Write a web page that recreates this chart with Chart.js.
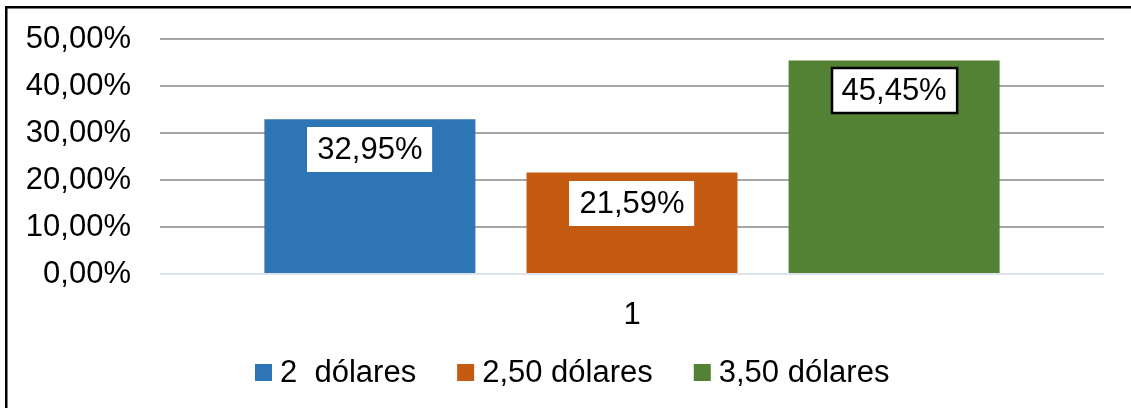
<!DOCTYPE html>
<html>
<head>
<meta charset="utf-8">
<script src="https://cdn.jsdelivr.net/npm/chart.js@4.4.0/dist/chart.umd.min.js"></script>
<style>
  html, body { margin: 0; padding: 0; background: #fff; overflow: hidden; }
  #wrap { width: 1131px; height: 408px; position: relative; }
  canvas { display: block; }
</style>
</head>
<body>
<div id="wrap"><canvas id="priceChart" width="1131" height="408"></canvas></div>
<script>
// Survey results: share of answers per price option
const categories = ['1'];
const seriesLabels = ['2  dólares', '2,50 dólares', '3,50 dólares'];
const seriesValues = [[32.95], [21.59], [45.45]];
const seriesColors = ['#2e75b6', '#c55a11', '#548235'];
const yTicks = [0, 10, 20, 30, 40, 50];

const FONT_FAMILY = '"Liberation Sans", Arial, sans-serif';
const FONT_SIZE = 31;

function pct(v) {
    return v.toFixed(2).replace('.', ',') + '%';
}

// White value boxes inside the top of each bar
const valueBoxes = {
    id: 'valueBoxes',
    afterDatasetsDraw(chart) {
        const ctx = chart.ctx;
        ctx.save();
        ctx.font = FONT_SIZE + 'px ' + FONT_FAMILY;
        ctx.textAlign = 'center';
        ctx.textBaseline = 'middle';
        chart.data.datasets.forEach((ds, i) => {
            chart.getDatasetMeta(i).data.forEach((bar, j) => {
                const txt = pct(ds.data[j]);
                const w = ctx.measureText(txt).width + 20;
                const h = 45;
                const x = Math.round(bar.x - w / 2);
                const y = Math.round(bar.y + 8);
                ctx.fillStyle = '#fff';
                ctx.fillRect(x, y, w, h);
                if (ds.boxBorder) {
                    ctx.lineWidth = 2.5;
                    ctx.strokeStyle = '#000';
                    ctx.strokeRect(x, y, w, h);
                }
                ctx.fillStyle = '#000';
                ctx.fillText(txt, bar.x, y + h / 2 + 1);
            });
        });
        ctx.restore();
    }
};

// Legend row with square swatches under the axis
const bottomLegend = {
    id: 'bottomLegend',
    afterDraw(chart) {
        const ctx = chart.ctx;
        const box = 17, textGap = 8, itemGap = 41;
        ctx.save();
        ctx.font = FONT_SIZE + 'px ' + FONT_FAMILY;
        ctx.textAlign = 'left';
        ctx.textBaseline = 'alphabetic';
        const items = chart.data.datasets.map(ds => ({
            text: ds.label,
            color: ds.backgroundColor,
            w: box + textGap + ctx.measureText(ds.label).width
        }));
        const total = items.reduce((s, it) => s + it.w, 0) + itemGap * (items.length - 1);
        let x = Math.round(chart.width / 2 + 7 - total / 2);
        items.forEach(it => {
            ctx.fillStyle = it.color;
            ctx.fillRect(x, 364, box, box);
            ctx.fillStyle = '#000';
            ctx.fillText(it.text, x + box + textGap, 382);
            x += it.w + itemGap;
        });
        ctx.restore();
    }
};

// Outer frame: only the top and left edges fall inside the canvas
const frame = {
    id: 'frame',
    afterDraw(chart) {
        const ctx = chart.ctx;
        ctx.save();
        ctx.fillStyle = '#000';
        ctx.fillRect(5, 6, 2.5, chart.height - 6);
        ctx.fillRect(5, 6, chart.width - 5, 2.5);
        ctx.restore();
    }
};

const ctx = document.getElementById('priceChart').getContext('2d');
const priceChart = new Chart(ctx, {
    type: 'bar',
    data: {
        labels: categories,
        datasets: seriesLabels.map((label, i) => ({
            label: label,
            data: seriesValues[i],
            backgroundColor: seriesColors[i],
            borderWidth: 0,
            boxBorder: i === 2
        }))
    },
    options: {
        responsive: false,
        animation: false,
        layout: { padding: { top: 39, right: 27, bottom: 0, left: 0 } },
        datasets: {
            bar: { categoryPercentage: 0.833, barPercentage: 0.805 }
        },
        plugins: {
            legend: { display: false },
            tooltip: { enabled: false }
        },
        scales: {
            x: {
                grid: { display: false },
                border: { display: false },
                ticks: {
                    color: '#000',
                    padding: 15,
                    font: { family: FONT_FAMILY, size: FONT_SIZE }
                },
                afterFit(s) { s.height = 134; }
            },
            y: {
                min: 0,
                max: 50,
                afterBuildTicks(s) { s.ticks = yTicks.map(v => ({ value: v })); },
                ticks: {
                    color: '#000',
                    padding: 29,
                    font: { family: FONT_FAMILY, size: FONT_SIZE },
                    callback: v => pct(v)
                },
                grid: {
                    color: c => c.tick.value === 0 ? '#dde3ec' : '#a6a6a6',
                    lineWidth: 2,
                    drawTicks: false
                },
                border: { display: false },
                afterFit(s) {
                    s.width = 160;
                    s.paddingTop = 0;
                    s.paddingBottom = 0;
                }
            }
        }
    },
    plugins: [valueBoxes, bottomLegend, frame]
});
</script>
</body>
</html>
